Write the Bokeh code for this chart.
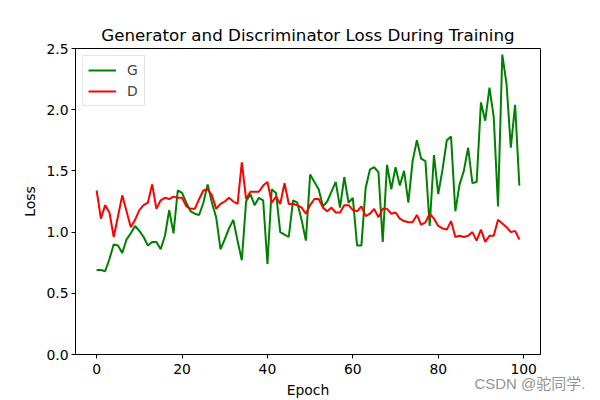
from bokeh.plotting import figure
from bokeh.models import (Range1d, Legend, LegendItem, Title, FixedTicker,
                          PrintfTickFormatter, ColumnDataSource)
from bokeh.embed import file_html
from bokeh.resources import INLINE

epochs = list(range(100))
G = [0.69, 0.69, 0.68, 0.78, 0.90, 0.89, 0.83, 0.94, 0.99, 1.05,
     1.01, 0.96, 0.89, 0.92, 0.92, 0.86, 0.97, 1.18, 0.99, 1.34,
     1.32, 1.24, 1.17, 1.15, 1.14, 1.24, 1.39, 1.24, 1.12, 0.86,
     0.94, 1.03, 1.10, 0.93, 0.77, 1.25, 1.31, 1.22, 1.28, 1.26,
     0.74, 1.35, 1.32, 1.00, 0.98, 0.96, 1.26, 1.24, 1.10, 0.93,
     1.47, 1.41, 1.35, 1.21, 1.25, 1.33, 1.41, 1.20, 1.45, 1.24,
     1.28, 0.89, 0.89, 1.36, 1.51, 1.53, 1.49, 0.92, 1.55, 1.35,
     1.53, 1.38, 1.50, 1.24, 1.58, 1.75, 1.60, 1.58, 1.05, 1.63,
     1.31, 1.51, 1.75, 1.78, 1.17, 1.39, 1.50, 1.69, 1.40, 1.41,
     2.06, 1.91, 2.18, 1.94, 1.21, 2.45, 2.21, 1.69, 2.04, 1.38]
D = [1.34, 1.11, 1.22, 1.16, 0.96, 1.13, 1.30, 1.17, 1.04, 1.10,
     1.18, 1.22, 1.24, 1.39, 1.19, 1.26, 1.28, 1.27, 1.29, 1.28,
     1.28, 1.21, 1.19, 1.19, 1.27, 1.34, 1.35, 1.30, 1.19, 1.23,
     1.25, 1.28, 1.25, 1.23, 1.57, 1.27, 1.33, 1.33, 1.33, 1.38,
     1.41, 1.24, 1.29, 1.23, 1.40, 1.23, 1.23, 1.22, 1.20, 1.15,
     1.22, 1.27, 1.27, 1.20, 1.17, 1.20, 1.16, 1.16, 1.22, 1.22,
     1.18, 1.17, 1.21, 1.13, 1.15, 1.19, 1.12, 1.19, 1.19, 1.15,
     1.16, 1.11, 1.09, 1.08, 1.08, 1.14, 1.06, 1.08, 1.15, 1.11,
     1.05, 1.03, 1.02, 1.09, 0.96, 0.97, 0.96, 0.97, 1.00, 0.93,
     1.02, 0.92, 0.97, 0.97, 1.10, 1.07, 1.04, 1.00, 1.01, 0.94]
x_ticks = [0, 20, 40, 60, 80, 100]
y_ticks = [0.0, 0.5, 1.0, 1.5, 2.0, 2.5]
series_labels = ["G", "D"]
series_colors = ["green", "red"]
title_text = "Generator and Discriminator Loss During Training"
watermark = "CSDN @驼同学."

FONT = "DejaVu Sans"

src = ColumnDataSource(dict(epoch=epochs, G=G, D=D))

p = figure(width=600, height=400, output_backend="svg", toolbar_location=None,
           x_range=Range1d(-4.95, 103.95), y_range=Range1d(0, 2.5),
           title=title_text, x_axis_label="Epoch", y_axis_label="Loss",
           min_border_left=75, min_border_right=60, min_border_top=48,
           min_border_bottom=44)

p.title.text_font = FONT
p.title.text_font_size = "16.7px"
p.title.text_font_style = "normal"
p.title.text_color = "black"
p.title.align = "center"
p.title.standoff = 7

p.xgrid.visible = False
p.ygrid.visible = False
p.outline_line_color = "black"
p.outline_line_alpha = 1
p.outline_line_width = 1

for ax in p.axis:
    ax.major_tick_out = 4
    ax.major_tick_in = 0
    ax.minor_tick_out = 0
    ax.minor_tick_in = 0
    ax.axis_line_color = "black"
    ax.major_tick_line_color = "black"
    ax.major_label_text_font = FONT
    ax.major_label_text_font_size = "13.9px"
    ax.major_label_text_color = "black"
    ax.axis_label_text_font = FONT
    ax.axis_label_text_font_size = "13.9px"
    ax.axis_label_text_font_style = "normal"
    ax.axis_label_text_color = "black"

p.xaxis.major_label_standoff = 5
p.xaxis.axis_label_standoff = 5
p.yaxis.major_label_standoff = 3
p.yaxis.axis_label_standoff = 5

p.xaxis.ticker = FixedTicker(ticks=x_ticks)
p.yaxis.ticker = FixedTicker(ticks=y_ticks)
p.yaxis.formatter = PrintfTickFormatter(format="%.1f")

renderers = []
for name, col in zip(series_labels, series_colors):
    r = p.line("epoch", name, source=src, line_color=col, line_width=2)
    renderers.append(r)

legend = Legend(items=[LegendItem(label=l, renderers=[r]) for l, r in zip(series_labels, renderers)],
                location="top_left", margin=7, padding=5, spacing=3,
                glyph_width=28, glyph_height=18, label_height=18, label_width=12,
                label_standoff=11,
                label_text_font=FONT, label_text_font_size="13.9px",
                border_line_color="#cccccc", border_line_width=1,
                background_fill_color="white", background_fill_alpha=0.8)
p.add_layout(legend)

# watermark drawn in the bottom panel, pulled up beside the x-axis label
wm = Title(text=watermark, align="right", offset=-45, standoff=-51, vertical_align="top",
           text_font="Liberation Sans, Noto Sans CJK SC", text_font_size="15px",
           text_color="#949494", text_font_style="normal")
p.add_layout(wm, "below")

open("out.html", "w").write(file_html(p, INLINE))
